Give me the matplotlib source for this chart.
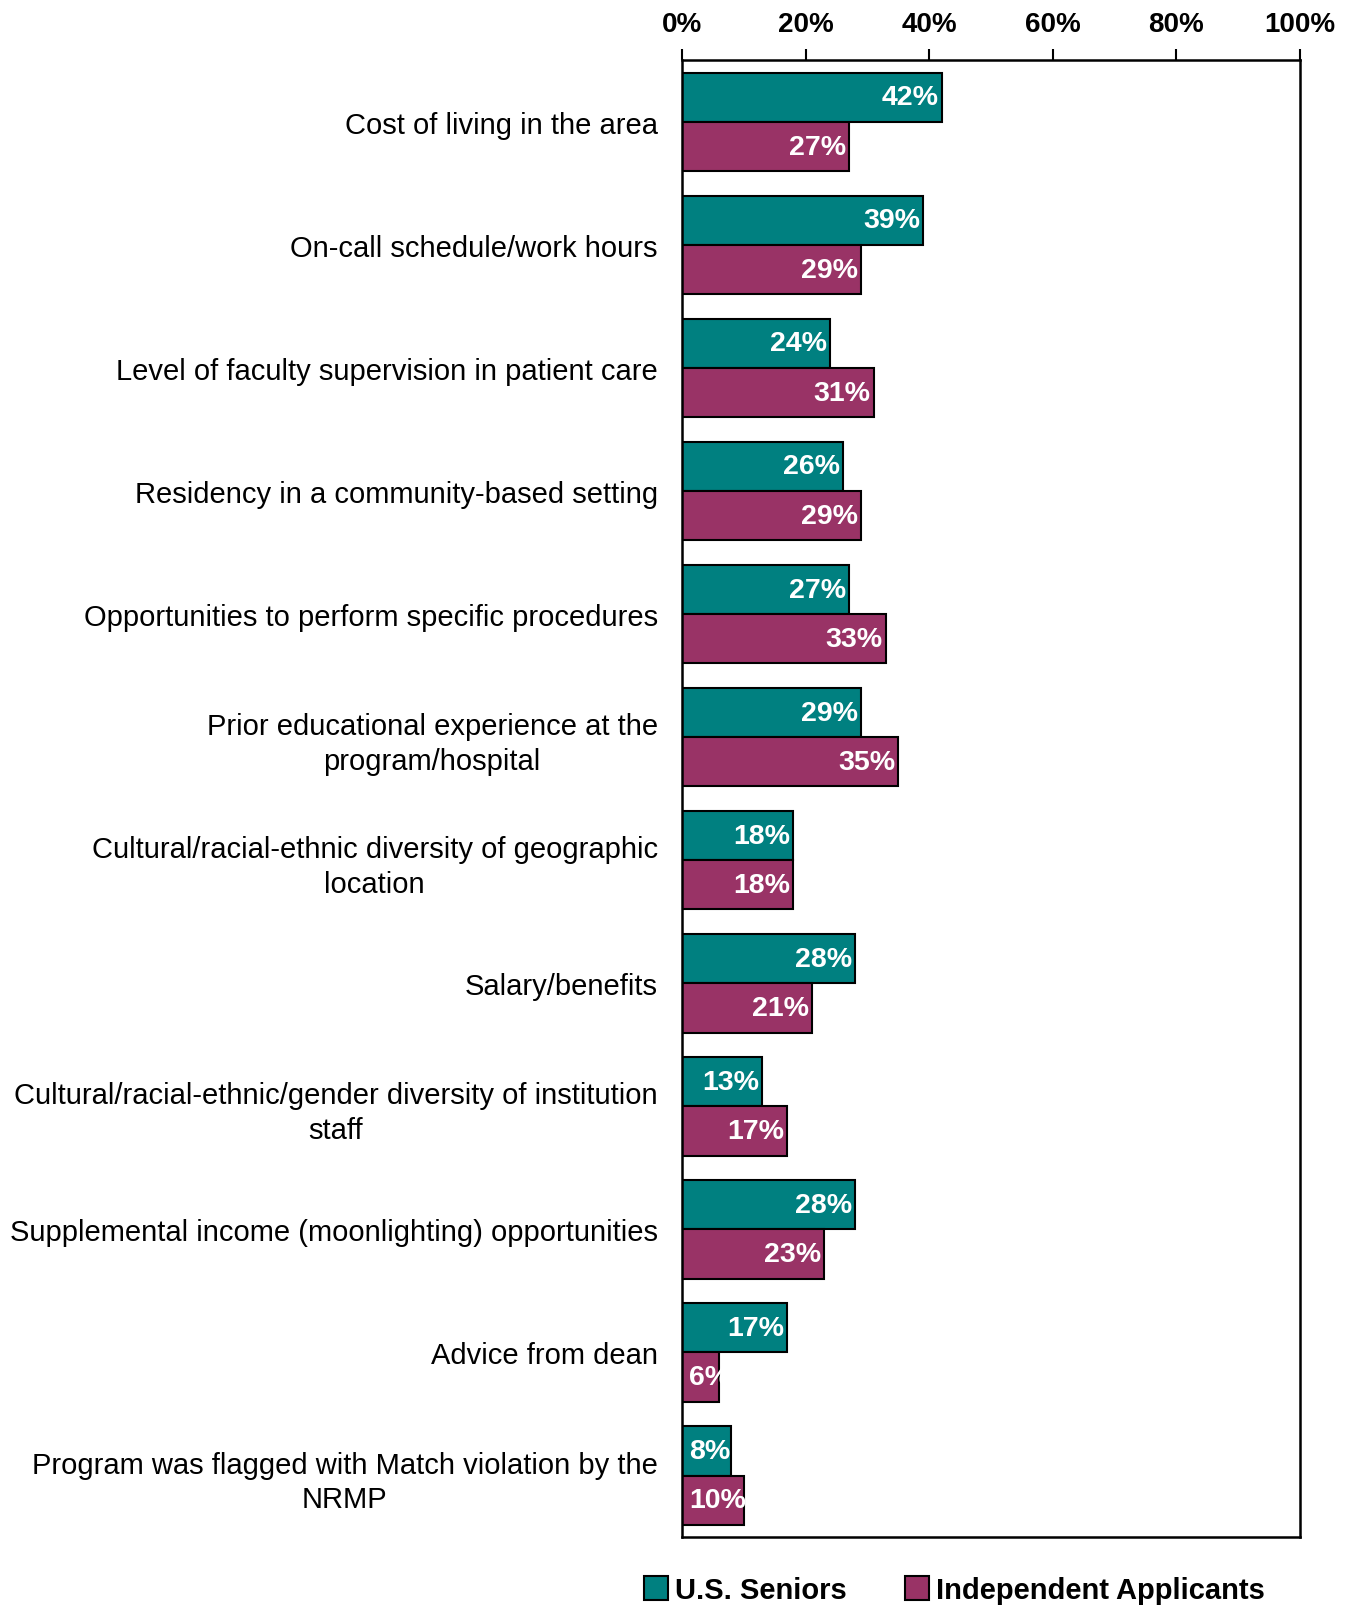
import matplotlib.pyplot as plt
from matplotlib.patches import Patch

# Datos
categorias = [
    "Cost of living in the area",
    "On-call schedule/work hours",
    "Level of faculty supervision in patient care",
    "Residency in a community-based setting",
    "Opportunities to perform specific procedures",
    "Prior educational experience at the\nprogram/hospital",
    "Cultural/racial-ethnic diversity of geographic\nlocation",
    "Salary/benefits",
    "Cultural/racial-ethnic/gender diversity of institution\nstaff",
    "Supplemental income (moonlighting) opportunities",
    "Advice from dean",
    "Program was flagged with Match violation by the\nNRMP",
]
us_seniors = [42, 39, 24, 26, 27, 29, 18, 28, 13, 28, 17, 8]
independientes = [27, 29, 31, 29, 33, 35, 18, 21, 17, 23, 6, 10]
ticks_x = [0, 20, 40, 60, 80, 100]

color_us = "#008080"
color_ind = "#993366"
plt.rcParams["font.family"] = ["Liberation Sans", "DejaVu Sans"]

fig = plt.figure(figsize=(13.54, 16.08), dpi=100)
ax = fig.add_axes([0.5037, 0.0435, 0.4565, 0.9183])

y = list(range(len(categorias)))
h = 0.4
ax.barh([i - h / 2 for i in y], us_seniors, height=h, color=color_us,
        edgecolor="black", linewidth=1.5)
ax.barh([i + h / 2 for i in y], independientes, height=h, color=color_ind,
        edgecolor="black", linewidth=1.5)

# Etiquetas de valores
for serie, off in [(us_seniors, -h / 2), (independientes, h / 2)]:
    for i, v in enumerate(serie):
        if v < 12:
            ax.text(1.2, i + off, f"{v}%", ha="left", va="center", color="white",
                    fontsize=20.5, fontweight="bold")
        else:
            ax.text(v - 0.5, i + off, f"{v}%", ha="right", va="center", color="white",
                    fontsize=20.5, fontweight="bold")

ax.set_xlim(0, 100)
ax.set_ylim(len(categorias) - 0.5, -0.5)
ax.xaxis.tick_top()
ax.set_xticks(ticks_x)
ax.set_xticklabels([f"{t}%" for t in ticks_x], fontsize=20, fontweight="bold")
ax.tick_params(axis="x", direction="out", length=8, width=1.5, pad=9)
ax.set_yticks(y)
ax.set_yticklabels(categorias, fontsize=21)
ax.tick_params(axis="y", length=0, pad=17.5)
for t in ax.get_yticklabels():
    t.set_multialignment("center")
    t.set_linespacing(1.3)
for s in ax.spines.values():
    s.set_linewidth(1.8)

handles = [Patch(facecolor=color_us, edgecolor="black", linewidth=1.5),
           Patch(facecolor=color_ind, edgecolor="black", linewidth=1.5)]
fig.legend(handles, ["U.S. Seniors", "Independent Applicants"], loc="center",
           bbox_to_anchor=(0.705, 0.0105), ncol=2, frameon=False,
           prop={"weight": "bold", "size": 21},
           handlelength=0.8, handleheight=0.9, handletextpad=0.25, columnspacing=2.0)

fig.savefig("out.png", dpi=100)
